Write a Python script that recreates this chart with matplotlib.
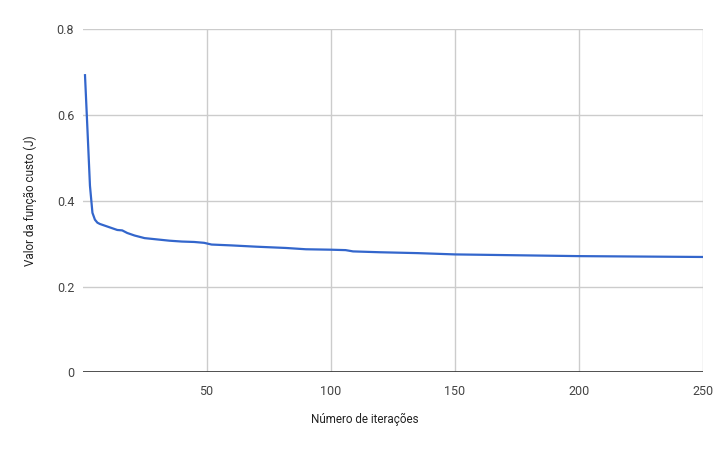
import matplotlib
matplotlib.use('Agg')
import matplotlib.pyplot as plt

# ---------- data ----------
iteracoes = [1, 2, 3, 4, 5, 6, 7, 8, 10, 12, 14, 16, 18, 21, 25, 30, 35, 40, 45, 49,
             52, 60, 70, 82, 90, 100, 106, 109, 120, 135, 150, 175, 200, 225, 250]
custo = [0.693, 0.565, 0.435, 0.372, 0.356, 0.349, 0.346, 0.344, 0.340, 0.336,
         0.332, 0.331, 0.325, 0.319, 0.313, 0.310, 0.307, 0.305, 0.304, 0.302,
         0.298, 0.296, 0.293, 0.290, 0.287, 0.286, 0.285, 0.282, 0.280, 0.278,
         0.275, 0.273, 0.271, 0.270, 0.269]

x_ticks = [50, 100, 150, 200, 250]
y_ticks = [0, 0.2, 0.4, 0.6, 0.8]
y_tick_labels = ['0', '0.2', '0.4', '0.6', '0.8']

plt.rcParams['font.family'] = ['Roboto', 'DejaVu Sans']

fig = plt.figure(figsize=(7.27, 4.49), dpi=100)
ax = fig.add_axes([0.1135, 0.1708, 0.8535, 0.7639])

ax.plot(iteracoes, custo, color='#3366cc', linewidth=1.6, solid_joinstyle='round', zorder=3)

ax.set_xlim(0, 250)
ax.set_ylim(0, 0.8)
ax.set_xticks(x_ticks)
ax.set_yticks(y_ticks)
ax.set_yticklabels(y_tick_labels)

ax.grid(True, color='#cccccc', linewidth=1.0, zorder=0)
ax.axhline(0, color='#333333', linewidth=1.2, zorder=2)
for s in ax.spines.values():
    s.set_visible(False)
ax.tick_params(axis='both', length=0, labelsize=9, colors='#444444')
ax.tick_params(axis='x', pad=9)
ax.tick_params(axis='y', pad=6)

ax.set_xlabel('Número de iterações', fontsize=8.4, color='#222222', va='center')
ax.xaxis.set_label_coords(0.455, -0.136)
ax.set_ylabel('Valor da função custo (J)', fontsize=8.4, color='#222222', va='center')
ax.yaxis.set_label_coords(-0.0837, 0.5)

fig.savefig('out.png', dpi=100)
plt.close(fig)
